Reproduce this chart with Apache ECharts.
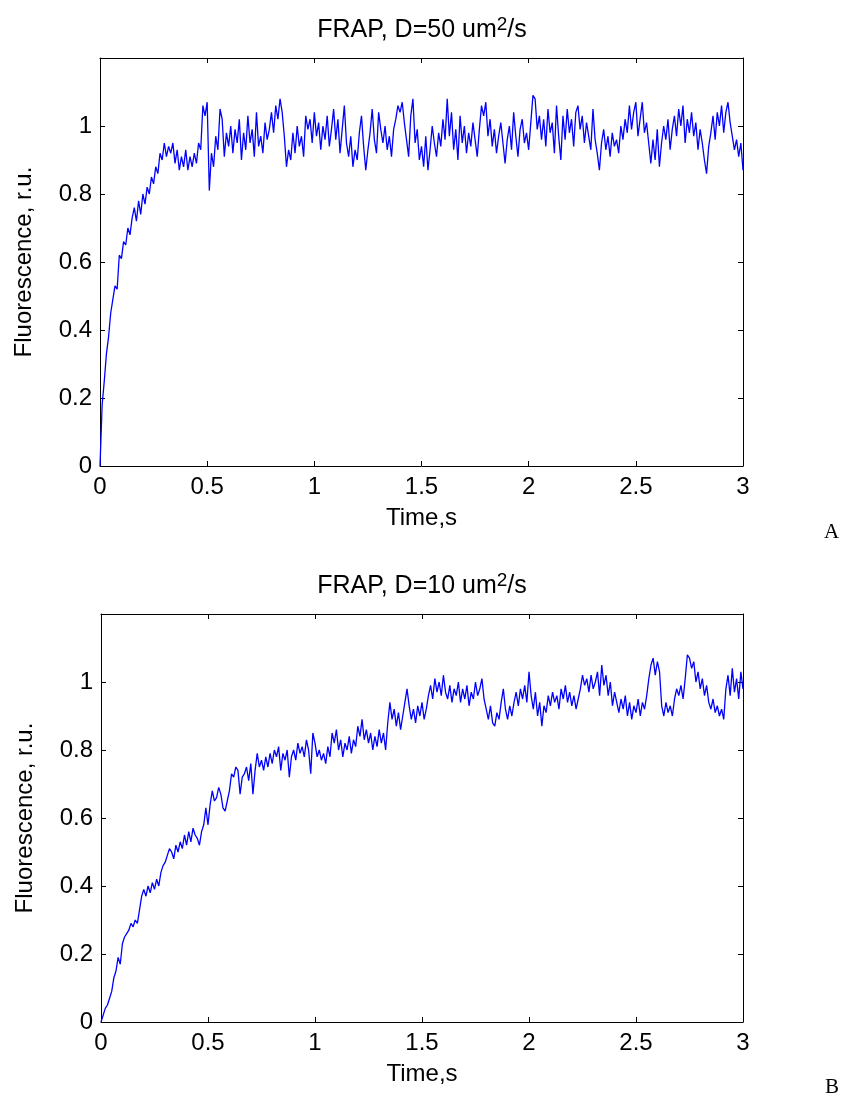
<!DOCTYPE html>
<html>
<head>
<meta charset="utf-8">
<script src="https://cdn.jsdelivr.net/npm/echarts@6/dist/echarts.min.js"></script>
<style>
  html, body { margin: 0; padding: 0; background: #fff; }
  #chart { width: 845px; height: 1099px; }
</style>
</head>
<body>
<div id="chart"></div>
<script>
// ---------------- data ----------------
const timeStep = 0.01; // s, sample spacing of both traces (0 .. 3 s)

const titleA = 'FRAP, D=50 um';
const titleB = 'FRAP, D=10 um';
const xName = 'Time,s';
const yName = 'Fluorescence, r.u.';
const panelLetters = ['A', 'B'];
const xTicks = [0, 0.5, 1, 1.5, 2, 2.5, 3];
const yTicks = [0, 0.2, 0.4, 0.6, 0.8, 1];

// D = 50 um^2/s (panel A)
const fluorA = [
  0.00,0.18,0.25,0.33,0.38,0.45,0.49,0.53,0.52,0.62,
  0.61,0.66,0.65,0.70,0.68,0.73,0.76,0.72,0.78,0.74,
  0.80,0.77,0.82,0.80,0.85,0.83,0.88,0.86,0.92,0.90,
  0.95,0.91,0.94,0.92,0.95,0.89,0.93,0.87,0.91,0.88,
  0.93,0.87,0.91,0.88,0.92,0.89,0.95,0.93,1.06,1.03,
  1.07,0.81,0.92,0.88,0.97,0.93,1.05,1.02,0.91,0.98,
  0.94,1.00,0.92,0.99,0.95,1.02,0.90,0.98,0.93,1.03,
  0.95,0.99,0.91,1.04,0.94,0.97,0.92,1.01,0.96,0.99,
  1.04,0.98,1.06,1.02,1.08,1.04,0.97,0.88,0.93,0.90,
  0.98,0.92,1.00,0.94,0.97,0.91,1.03,0.99,1.02,0.95,
  1.04,0.97,1.01,0.93,1.00,0.96,1.03,0.94,0.99,1.05,
  0.96,1.02,0.92,0.99,1.06,0.95,0.91,0.97,0.88,0.93,
  0.90,0.98,1.03,0.94,0.87,0.93,0.98,1.05,0.96,0.92,
  1.04,0.99,0.95,1.00,0.93,0.97,0.91,0.99,1.02,1.06,
  1.04,1.07,1.01,0.96,0.91,1.03,1.08,0.95,0.99,0.90,
  0.94,0.88,0.97,0.87,0.93,1.00,0.95,0.91,0.98,0.94,
  1.02,0.96,1.08,0.97,1.04,0.93,0.99,0.90,1.03,0.95,
  1.00,0.92,0.98,0.94,1.01,0.96,0.91,0.99,1.06,1.03,
  1.07,0.97,1.02,0.94,0.99,0.92,0.97,1.01,0.95,0.89,
  0.96,1.00,0.93,1.04,0.97,0.91,0.99,1.02,0.95,0.98,
  0.93,1.01,1.09,1.08,0.99,1.03,0.96,1.02,0.94,1.05,
  0.98,1.01,0.92,1.06,0.97,0.90,1.03,0.96,1.05,0.98,
  1.02,0.94,1.04,1.06,0.99,1.03,0.95,1.01,0.97,0.93,
  1.05,0.96,0.92,0.87,0.95,0.99,0.93,0.97,0.91,0.98,
  0.94,0.96,0.92,1.00,0.96,1.02,0.98,1.06,0.99,1.04,
  1.07,0.97,1.02,1.07,0.98,1.01,0.95,0.89,0.96,0.90,
  0.99,0.88,0.95,1.00,0.96,1.02,0.93,0.99,1.03,0.97,
  1.05,1.00,1.06,0.95,1.02,0.98,1.04,0.97,1.01,0.93,
  0.99,0.95,0.90,0.86,0.94,0.98,1.03,0.96,1.04,1.00,
  1.06,0.98,1.04,1.07,1.01,0.97,0.93,0.96,0.91,0.95,
  0.87
];

// D = 10 um^2/s (panel B)
const fluorB = [
  0.00,0.02,0.04,0.05,0.07,0.09,0.13,0.15,0.19,0.17,
  0.23,0.25,0.26,0.27,0.29,0.28,0.30,0.29,0.33,0.37,
  0.39,0.37,0.40,0.38,0.41,0.39,0.42,0.40,0.44,0.46,
  0.47,0.49,0.51,0.50,0.48,0.52,0.50,0.53,0.51,0.55,
  0.52,0.56,0.53,0.57,0.55,0.54,0.52,0.56,0.58,0.63,
  0.58,0.64,0.68,0.65,0.66,0.69,0.67,0.63,0.62,0.65,
  0.68,0.73,0.72,0.75,0.74,0.67,0.72,0.73,0.75,0.71,
  0.76,0.67,0.74,0.79,0.75,0.77,0.74,0.78,0.75,0.79,
  0.76,0.80,0.78,0.81,0.74,0.79,0.77,0.80,0.72,0.78,
  0.80,0.77,0.82,0.79,0.81,0.78,0.83,0.80,0.73,0.85,
  0.82,0.78,0.80,0.77,0.79,0.76,0.81,0.78,0.85,0.82,
  0.86,0.80,0.83,0.78,0.82,0.80,0.84,0.79,0.83,0.81,
  0.87,0.84,0.89,0.83,0.86,0.82,0.85,0.80,0.84,0.81,
  0.86,0.82,0.85,0.80,0.88,0.94,0.89,0.92,0.87,0.91,
  0.86,0.90,0.94,0.98,0.93,0.89,0.92,0.88,0.93,0.90,
  0.94,0.89,0.92,0.96,0.99,0.95,1.01,0.97,1.00,0.96,
  1.02,0.97,0.95,0.99,0.94,0.98,0.96,1.00,0.94,0.98,
  0.95,0.99,0.93,0.97,0.95,1.00,0.96,0.98,1.01,0.95,
  0.92,0.89,0.93,0.88,0.87,0.91,0.89,0.94,0.98,0.92,
  0.89,0.93,0.90,0.94,0.97,0.93,0.98,0.95,0.99,0.94,
  1.03,0.96,0.92,0.97,0.90,0.94,0.87,0.93,0.91,0.96,
  0.93,0.97,0.94,0.96,0.92,0.98,0.95,0.99,0.94,0.97,
  0.93,0.96,0.92,0.95,0.98,1.02,0.99,1.01,0.97,1.02,
  0.98,1.00,1.03,0.96,1.05,0.99,1.02,0.96,1.00,0.93,
  0.97,0.94,0.91,0.95,0.92,0.96,0.90,0.94,0.89,0.93,
  0.91,0.95,0.90,0.94,0.92,0.96,1.01,1.05,1.07,1.02,
  1.06,1.03,0.93,0.90,0.94,0.91,0.93,0.90,0.95,0.98,
  0.96,0.99,0.95,1.01,1.08,1.07,1.04,1.06,1.00,1.03,
  0.98,1.01,0.96,0.99,0.94,0.92,0.95,0.91,0.93,0.90,
  0.92,0.89,0.98,1.02,0.96,1.04,0.97,1.01,0.95,1.03,
  0.98
];

// ---------------- chart ----------------
const FONT = '"Liberation Sans", Arial, Helvetica, sans-serif';
const pairs = (ys) => ys.map((v, i) => [Number((i * timeStep).toFixed(2)), v]);
const fmt = (v) => String(Number(v.toFixed(1)));

const chart = echarts.init(document.getElementById('chart'), null, { renderer: 'canvas' });

const grids = [
  { left: 100, top: 58, width: 643, height: 408 },
  { left: 101, top: 614, width: 642, height: 408 }
];

const lineStyle = { color: '#000', width: 1 };
const tick = { show: true, inside: true, length: 5, lineStyle: { color: '#000', width: 1 } };

function xAxes(gi) {
  return [
    {
      type: 'value', gridIndex: gi, position: 'bottom', min: 0, max: 3, interval: 0.5,
      axisLine: { show: true, onZero: false, lineStyle },
      axisTick: tick, splitLine: { show: false },
      axisLabel: {
        show: true, margin: 9, color: '#000', fontSize: 24, fontFamily: FONT,
        formatter: (v) => xTicks.some(t => Math.abs(t - v) < 1e-6) ? fmt(v) : ''
      },
      name: xName, nameLocation: 'middle', nameGap: 40,
      nameTextStyle: { color: '#000', fontSize: 24, fontFamily: FONT }
    },
    {
      type: 'value', gridIndex: gi, position: 'top', min: 0, max: 3, interval: 0.5,
      axisLine: { show: true, onZero: false, lineStyle },
      axisTick: tick, splitLine: { show: false }, axisLabel: { show: false }
    }
  ];
}
function yAxes(gi) {
  return [
    {
      type: 'value', gridIndex: gi, position: 'left', min: 0, max: 1.2, interval: 0.2,
      axisLine: { show: true, onZero: false, lineStyle },
      axisTick: tick, splitLine: { show: false },
      axisLabel: {
        show: true, margin: 8, color: '#000', fontSize: 24, fontFamily: FONT,
        formatter: (v) => yTicks.some(t => Math.abs(t - v) < 1e-6) ? fmt(v) : ''
      },
      name: yName, nameLocation: 'middle', nameGap: 64,
      nameTextStyle: { color: '#000', fontSize: 24, fontFamily: FONT }
    },
    {
      type: 'value', gridIndex: gi, position: 'right', min: 0, max: 1.2, interval: 0.2,
      axisLine: { show: true, onZero: false, lineStyle },
      axisTick: tick, splitLine: { show: false }, axisLabel: { show: false }
    }
  ];
}

const richTitle = {
  a: { fontSize: 25, fontFamily: FONT, fontWeight: 'normal', color: '#000', lineHeight: 31 },
  b: { fontSize: 19, fontFamily: FONT, fontWeight: 'normal', color: '#000', verticalAlign: 'top', lineHeight: 19 }
};

const option = {
  animation: false,
  backgroundColor: '#fff',
  title: [
    { text: '{a|' + titleA + '}{b|2}{a|/s}', left: 417, top: 10, textAlign: 'center',
      textStyle: { fontWeight: 'normal', rich: richTitle } },
    { text: '{a|' + titleB + '}{b|2}{a|/s}', left: 417, top: 566, textAlign: 'center',
      textStyle: { fontWeight: 'normal', rich: richTitle } }
  ],
  grid: grids,
  xAxis: [...xAxes(0), ...xAxes(1)],
  yAxis: [...yAxes(0), ...yAxes(1)],
  series: [
    { type: 'line', xAxisIndex: 0, yAxisIndex: 0, data: pairs(fluorA), showSymbol: false, symbol: 'none',
      lineStyle: { color: '#0000ff', width: 1.3 }, sampling: null, silent: true },
    { type: 'line', xAxisIndex: 2, yAxisIndex: 2, data: pairs(fluorB), showSymbol: false, symbol: 'none',
      lineStyle: { color: '#0000ff', width: 1.3 }, sampling: null, silent: true }
  ],
  graphic: [
    { type: 'text', left: 824, top: 522, style: { text: panelLetters[0], fontSize: 21, fontFamily: '"Liberation Serif", "Times New Roman", serif', fill: '#000' } },
    { type: 'text', left: 825, top: 1077, style: { text: panelLetters[1], fontSize: 21, fontFamily: '"Liberation Serif", "Times New Roman", serif', fill: '#000' } }
  ]
};

chart.setOption(option);
</script>
</body>
</html>
